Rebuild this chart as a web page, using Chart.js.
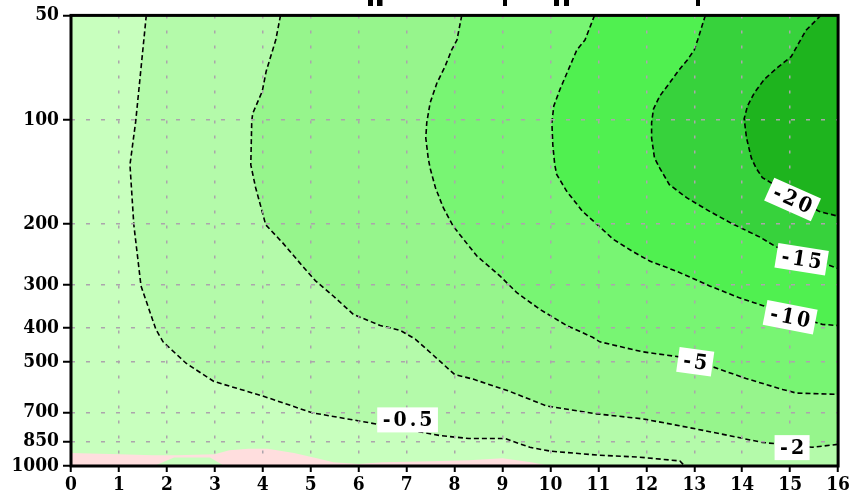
<!DOCTYPE html>
<html><head><meta charset="utf-8">
<script src="https://cdn.jsdelivr.net/npm/chart.js@4.4.1/dist/chart.umd.min.js"></script>
<style>html,body{margin:0;padding:0;background:#fff;}canvas{display:block;}</style>
</head><body>
<canvas id="c" width="852" height="497"></canvas>
<script>
// ---- axes ----
const xMin = 0, xMax = 16;
const pTicks = [50, 100, 200, 300, 400, 500, 700, 850, 1000];

// ---- contour lines (x, pressure hPa) ----
const c05X = [1.57,1.35,1.23,1.31,1.46,1.77,1.92,2.4,2.98,4.0,5.03,6.1,7.7,8.3,9.05,9.57,10.0,11.03,11.86,12.7,12.8];
const c05P = [50,101,135,201,302,403,438,505,570,628,702,745,817,833,833,883,906,931,943,967,1000];

const c2X = [4.37,4.27,4.07,3.99,3.79,3.77,3.75,3.85,4.0,4.06,4.43,4.78,5.1,5.47,5.89,6.45,6.87,7.18,7.55,8.0,8.4,9.15,9.92,10.96,11.93,12.9,13.73,14.42,15.46,16];
const c2P = [50,58.9,72.6,82.7,96,101,135,157,187,201,228,260,292,323,365,393,406,430,478,544,562,609,671,707,731,775,817,855,883,866];

const c5X = [8.15,8.05,7.94,7.8,7.63,7.49,7.42,7.4,7.45,7.49,7.6,7.76,7.97,8.26,8.47,8.95,9.3,9.78,10.34,10.88,11.03,11.92,12.69,13.38,14.08,14.84,15.13,16];
const c5P = [50,58.9,62.9,70.3,78.5,89.5,102,113,129,138,157,179,203,228,248,283,316,353,393,425,438,468,484,517,559,601,616,621];

const c10X = [10.92,10.72,10.55,10.34,10.2,10.07,10.03,10.05,10.09,10.13,10.34,10.67,10.96,11.03,11.3,11.71,12.07,12.63,13.32,13.94,14.42,15.67,16];
const c10P = [50,58.9,62.9,73.6,81.7,91.3,102,118.6,135,144,161,184,200,204,221,240,256,274,302,327,344,390,393];

const c15X = [13.23,13.07,13.0,12.86,12.69,12.48,12.28,12.15,12.11,12.11,12.17,12.28,12.48,12.84,13.32,13.8,14.36,14.71,15.81,16];
const c15P = [50,58.9,62.9,67.1,71.6,78.5,85.5,93.1,102,113,129,138,154,168,184,200,218,233,263,269];

const c20X = [15.64,15.33,15.02,14.71,14.46,14.25,14.11,14.04,14.09,14.19,14.29,14.42,15.6,16];
const c20P = [50,55.2,65.8,71.2,76.5,83.8,91.3,99.4,113,129,138,147,184,190];

// positive (pink) area near the surface and the small non-positive patch inside it
const posX = [0,0,1.0,1.7,2.2,3.0,3.3,3.7,4.1,4.65,5.13,5.47,6.0,6.5,7.5,8.3,9.0,9.6,10.0];
const posP = [1000,917,925,931,931,925,901,891,891,917,949,975,987,975,969,963,949,975,1000];
const patchX = [1.73,2.15,2.9,3.2];
const patchP = [1000,945,945,1000];

// ---- contour labels ----
const labelText  = ['-0.5','-2','-5','-10','-15','-20'];
const labelX     = [7.02, 15.04, 13.02, 15.0, 15.24, 15.05];
const labelP     = [736, 885, 500, 372, 253, 170];
const labelAngle = [0, 0, 8, 11, 9, 24];

// ---- colours ----
const shadeColors = ['rgb(200,255,190)','rgb(180,250,170)','rgb(150,245,140)','rgb(120,245,115)','rgb(80,240,80)','rgb(55,210,60)','rgb(30,180,30)'];
const posColor = 'rgb(255,222,222)';

function pts(xs, ps) { return xs.map((v, i) => ({x: v, y: ps[i]})); }

const lines = [[c05X,c05P],[c2X,c2P],[c5X,c5P],[c10X,c10P],[c15X,c15P],[c20X,c20P]];
const datasets = [];
let ord = 100;
datasets.push({data: pts([xMin,xMax,xMax,xMin],[pTicks[0],pTicks[0],1000,1000]), showLine:true, fill:'shape', backgroundColor: shadeColors[0], borderWidth:0, pointRadius:0, order: ord--});
lines.forEach((ln, i) => {
  const p = pts(ln[0], ln[1]);
  if (i === 0) p.push({x:xMax, y:1000});
  p.push({x:xMax, y:pTicks[0]});
  datasets.push({data:p, showLine:true, fill:'shape', backgroundColor: shadeColors[i+1], borderWidth:0, pointRadius:0, order: ord--});
});
datasets.push({data: pts(posX,posP), showLine:true, fill:'shape', backgroundColor: posColor, borderWidth:0, pointRadius:0, order: ord--});
datasets.push({data: pts(patchX,patchP), showLine:true, fill:'shape', backgroundColor: shadeColors[0], borderWidth:0, pointRadius:0, order: ord--});
lines.forEach((ln) => {
  datasets.push({data: pts(ln[0], ln[1]), showLine:true, fill:false, borderColor:'#000', borderWidth:1.6, borderDash:[5,3], pointRadius:0, order: ord--});
});

const FONT_FAM = '"DejaVu Serif Condensed", "DejaVu Serif", serif';
const tickFont = {family: FONT_FAM, weight:'bold', size:19};

const framePlugin = {
  id:'frame',
  afterDraw(chart) {
    const {ctx, chartArea:a} = chart;
    ctx.save();
    ctx.fillStyle = '#000';
    [[368,5],[377,5.5],[503,4],[554,5],[564,5],[696,4]].forEach(r => ctx.fillRect(r[0], 0, r[1], 6));
    ctx.strokeStyle = '#000';
    ctx.lineWidth = 3;
    ctx.strokeRect(a.left, a.top, a.right - a.left, a.bottom - a.top);
    const xs = chart.scales.x, ys = chart.scales.y;
    ctx.font = 'bold 21px ' + FONT_FAM;
    ctx.textAlign = 'center';
    ctx.textBaseline = 'middle';
    labelText.forEach((t, i) => {
      const px = xs.getPixelForValue(labelX[i]);
      const py = ys.getPixelForValue(labelP[i]);
      ctx.save();
      ctx.translate(px, py);
      ctx.rotate(labelAngle[i] * Math.PI / 180);
      ctx.letterSpacing = '3px';
      const w = ctx.measureText(t).width + 8;
      const h = 25;
      ctx.fillStyle = '#fff';
      ctx.fillRect(-w/2, -h/2, w, h);
      ctx.fillStyle = '#000';
      ctx.fillText(t, 1.5, 1);
      ctx.restore();
    });
    ctx.restore();
  }
};

const gridColor = 'rgb(172,164,172)';
new Chart(document.getElementById('c'), {
  type: 'scatter',
  data: {datasets},
  options: {
    responsive:false, animation:false, devicePixelRatio:1,
    layout:{padding:{left:0, right:13, top:9, bottom:0}},
    plugins:{legend:{display:false}, tooltip:{enabled:false}, title:{display:false}},
    elements:{line:{tension:0}},
    scales:{
      x:{type:'linear', min:xMin, max:xMax,
        ticks:{stepSize:1, autoSkip:false, maxRotation:0, color:'#000', font:tickFont, padding:2},
        grid:{z:1, color:gridColor, lineWidth:1.5, tickLength:6, tickColor:'#000', tickWidth:2},
        border:{display:false, dash:[3,12]},
        afterFit(s){ s.height = 31; }
      },
      y:{type:'logarithmic', reverse:true, min:50, max:1000,
        afterBuildTicks(s){ s.ticks = pTicks.map(v => ({value:v})); },
        ticks:{autoSkip:false, color:'#000', font:tickFont, padding:4, callback:(v) => String(v)},
        grid:{z:1, color:gridColor, lineWidth:1.5, tickLength:8, tickColor:'#000', tickWidth:2},
        border:{display:false, dash:[4,11]},
        afterFit(s){ s.width = 71; }
      }
    }
  },
  plugins:[framePlugin]
});
</script>
</body></html>
